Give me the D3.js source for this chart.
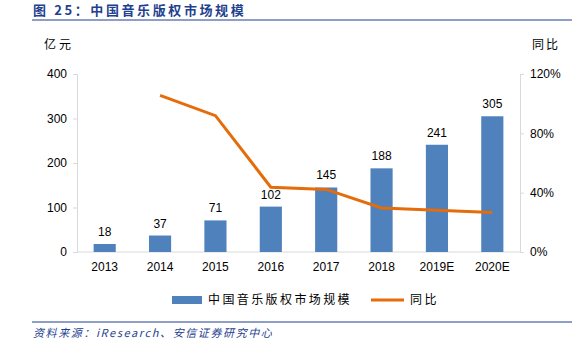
<!DOCTYPE html>
<html>
<head>
<meta charset="utf-8">
<script src="https://cdn.jsdelivr.net/npm/d3@7"></script>
<style>
  body { margin: 0; background: #fff; }
  text { font-family: "Liberation Sans", Arial, sans-serif; }
  .cjk { font-family: "Noto Sans CJK SC", sans-serif; }
</style>
</head>
<body>
<div id="chart-area"></div>
<script>
var years = ["2013", "2014", "2015", "2016", "2017", "2018", "2019E", "2020E"]
var marketSize = [18, 37, 71, 102, 145, 188, 241, 305]
var growth = [null, 1.056, 0.919, 0.437, 0.422, 0.297, 0.282, 0.266]
var leftTicks = [0, 100, 200, 300, 400]
var rightTicks = [0, 0.4, 0.8, 1.2]

var W = 572, H = 350
var margin = { left: 77, right: 52, top: 74, bottom: 98 }
var width = W - margin.left - margin.right,
    height = H - margin.top - margin.bottom

var svg = d3.select("#chart-area").append("svg")
    .attr("width", W)
    .attr("height", H)

var blue = "#4f81bd", orange = "#e46c0a", navy = "#1f3f8f"

// title and rules
svg.append("text")
  .attr("class", "cjk")
  .attr("x", 33).attr("y", 15)
  .attr("font-size", "13px").attr("font-weight", "bold")
  .attr("letter-spacing", "2.6px")
  .attr("fill", navy)
  .text("图 25：中国音乐版权市场规模")

svg.append("line")
  .attr("x1", 32).attr("x2", 572).attr("y1", 20).attr("y2", 20)
  .attr("stroke", navy).attr("stroke-width", 1)

svg.append("line")
  .attr("x1", 32).attr("x2", 572).attr("y1", 322).attr("y2", 322)
  .attr("stroke", navy).attr("stroke-width", 1)

svg.append("text")
  .attr("class", "cjk")
  .attr("x", 33).attr("y", 337)
  .attr("font-size", "11px").attr("font-style", "italic")
  .attr("letter-spacing", "1.6px")
  .attr("fill", navy)
  .text("资料来源：iResearch、安信证券研究中心")

var g = svg.append("g")
    .attr("transform", "translate(" + margin.left + "," + margin.top + ")")

var x = d3.scaleBand()
  .domain(years)
  .range([0, width])
  .paddingInner(0.6)
  .paddingOuter(0.3)

var y = d3.scaleLinear().domain([0, 400]).range([height, 0])
var y2 = d3.scaleLinear().domain([0, 1.2]).range([height, 0])

// axes
var yAxis = g.append("g")
  .call(d3.axisLeft(y).tickValues(leftTicks).tickSize(4).tickPadding(6))
var y2Axis = g.append("g")
  .attr("transform", "translate(" + width + ",0)")
  .call(d3.axisRight(y2).tickValues(rightTicks).tickSize(4).tickPadding(6)
    .tickFormat(function(d) { return Math.round(d * 100) + "%" }))
var xAxis = g.append("g")
  .attr("transform", "translate(0," + height + ")")
  .call(d3.axisBottom(x).tickSize(0).tickPadding(10))

;[yAxis, y2Axis, xAxis].forEach(function(a) {
  a.selectAll("path, line").attr("stroke", "#d9d9d9")
  a.selectAll("text").attr("font-size", "12px").attr("fill", "#000")
    .attr("font-family", "Liberation Sans, Arial, sans-serif")
})
xAxis.select(".domain").attr("d", "M0,0H" + width)

// unit labels
g.append("text").attr("class", "cjk")
  .attr("x", -33).attr("y", -25)
  .attr("font-size", "12px").attr("letter-spacing", "3px").text("亿元")
g.append("text").attr("class", "cjk")
  .attr("x", width + 12).attr("y", -25)
  .attr("font-size", "12px").attr("letter-spacing", "2px").text("同比")

// bars
g.selectAll("rect.bar")
  .data(marketSize)
  .enter().append("rect")
  .attr("class", "bar")
  .attr("x", function(d, i) { return x(years[i]) })
  .attr("y", function(d) { return y(d) })
  .attr("width", x.bandwidth())
  .attr("height", function(d) { return height - y(d) })
  .attr("fill", blue)

g.selectAll("text.val")
  .data(marketSize)
  .enter().append("text")
  .attr("class", "val")
  .attr("x", function(d, i) { return x(years[i]) + x.bandwidth() / 2 })
  .attr("y", function(d) { return y(d) - 8 })
  .attr("text-anchor", "middle")
  .attr("font-size", "12px")
  .text(function(d) { return d })

// growth line
var line = d3.line()
  .defined(function(d) { return d != null })
  .x(function(d, i) { return x(years[i]) + x.bandwidth() / 2 })
  .y(function(d) { return y2(d) })

g.append("path")
  .datum(growth)
  .attr("d", line)
  .attr("fill", "none")
  .attr("stroke", orange)
  .attr("stroke-width", 3)

// legend
var lg = svg.append("g").attr("transform", "translate(0,300)")
lg.append("rect")
  .attr("x", 172).attr("y", -4).attr("width", 30).attr("height", 8)
  .attr("fill", blue)
lg.append("text").attr("class", "cjk")
  .attr("x", 208).attr("y", 4).attr("font-size", "12px")
  .attr("letter-spacing", "2.4px")
  .text("中国音乐版权市场规模")
lg.append("line")
  .attr("x1", 371).attr("x2", 404).attr("y1", 0).attr("y2", 0)
  .attr("stroke", orange).attr("stroke-width", 3)
lg.append("text").attr("class", "cjk")
  .attr("x", 410).attr("y", 4).attr("font-size", "12px")
  .attr("letter-spacing", "2.4px")
  .text("同比")
</script>
</body>
</html>
